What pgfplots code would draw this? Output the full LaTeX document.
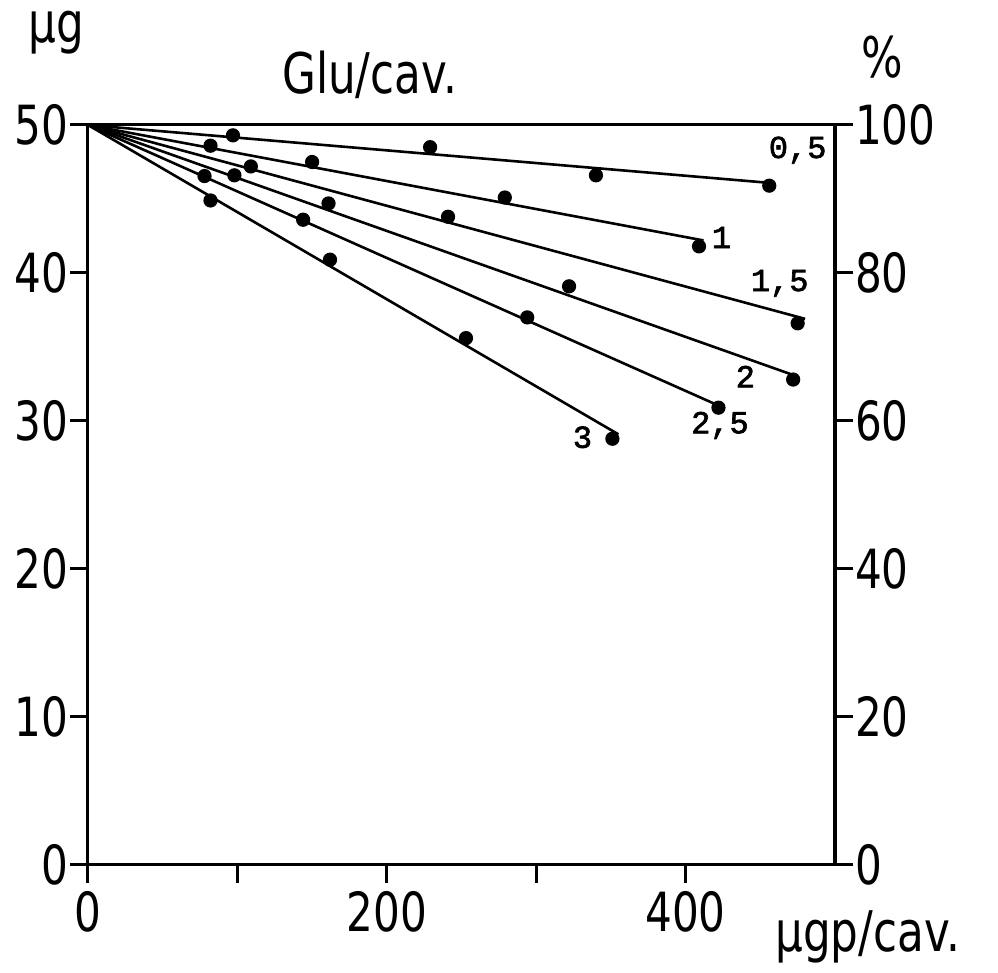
\documentclass[border=0pt]{standalone}
\usepackage{pgfplots}
\pgfplotsset{compat=1.18}
\usepackage{fontspec}
\setmainfont{DejaVu Sans}[FakeStretch=0.78]
\newfontfamily\curvefont{Liberation Mono}[FakeBold=2]
\begin{document}
\begin{tikzpicture}[x=1pt,y=1pt]
\useasboundingbox (-44,-54) rectangle (455,432.5);
\begin{axis}[
  scale only axis, width=373.5pt, height=370pt,
  xmin=0, xmax=500, ymin=0, ymax=50,
  line width=1.5pt,
  xtick={0,100,...,400}, xticklabels={0,,200,,400},
  ytick={0,10,...,50},
  xtick pos=bottom, ytick pos=left,
  tick align=outside, major tick length=9pt,
  every tick/.style={line width=1.5pt, black},
  tick label style={font=\fontsize{27}{27}\selectfont},
  /pgf/number format/assume math mode=true,
  yticklabel style={xshift=3pt},
  clip=false,
  every axis plot/.append style={line width=1.3pt, black},
]
% fitted lines, all starting at 50 ug
\addplot[no marks] coordinates {(0,50) (455,46.1)};
\addplot[no marks] coordinates {(0,50) (412,42.2)};
\addplot[no marks] coordinates {(0,50) (480,36.9)};
\addplot[no marks] coordinates {(0,50) (475,33.0)};
\addplot[no marks] coordinates {(0,50) (423,31.0)};
\addplot[no marks] coordinates {(0,50) (355,29.1)};
% measured points
\addplot[only marks, mark=*, mark size=2.9pt] coordinates {(97,49.3) (229,48.5) (340,46.6) (456,45.9)};
\addplot[only marks, mark=*, mark size=2.9pt] coordinates {(82,48.6) (150,47.5) (279,45.1) (409,41.8)};
\addplot[only marks, mark=*, mark size=2.9pt] coordinates {(109,47.2) (241,43.8) (475,36.6)};
\addplot[only marks, mark=*, mark size=2.9pt] coordinates {(98,46.6) (161,44.7) (322,39.1) (472,32.8)};
\addplot[only marks, mark=*, mark size=2.9pt] coordinates {(78,46.55) (144,43.6) (294,37.0) (422,30.9)};
\addplot[only marks, mark=*, mark size=2.9pt] coordinates {(82,44.9) (162,40.9) (253,35.6) (351,28.8)};
% curve labels
\begin{scope}[every node/.style={font=\curvefont\fontsize{16}{16}\selectfont}]
\node at (axis cs:475,48.3) {0,5};
\node at (axis cs:424,42.4) {1};
\node at (axis cs:463,39.3) {1,5};
\node at (axis cs:440,33.0) {2};
\node at (axis cs:423,29.7) {2,5};
\node at (axis cs:331,28.9) {3};
\end{scope}
\end{axis}
\begin{axis}[
  scale only axis, width=373.5pt, height=370pt,
  xmin=0, xmax=500, ymin=0, ymax=100,
  hide x axis, axis y line*=right,
  line width=1.5pt,
  ytick={0,20,...,100},
  tick align=outside, major tick length=9pt,
  every tick/.style={line width=1.5pt, black},
  tick label style={font=\fontsize{27}{27}\selectfont},
  /pgf/number format/assume math mode=true,
  yticklabel style={xshift=-3pt},
]
\end{axis}
\begin{scope}[every node/.style={font=\fontsize{28}{28}\selectfont}]
\node at (-16,416) {µg};
\node at (141,395) {Glu/cav.};
\node at (397,404) {\%};
\node at (390,-36) {µgp/cav.};
\end{scope}
\end{tikzpicture}
\end{document}
